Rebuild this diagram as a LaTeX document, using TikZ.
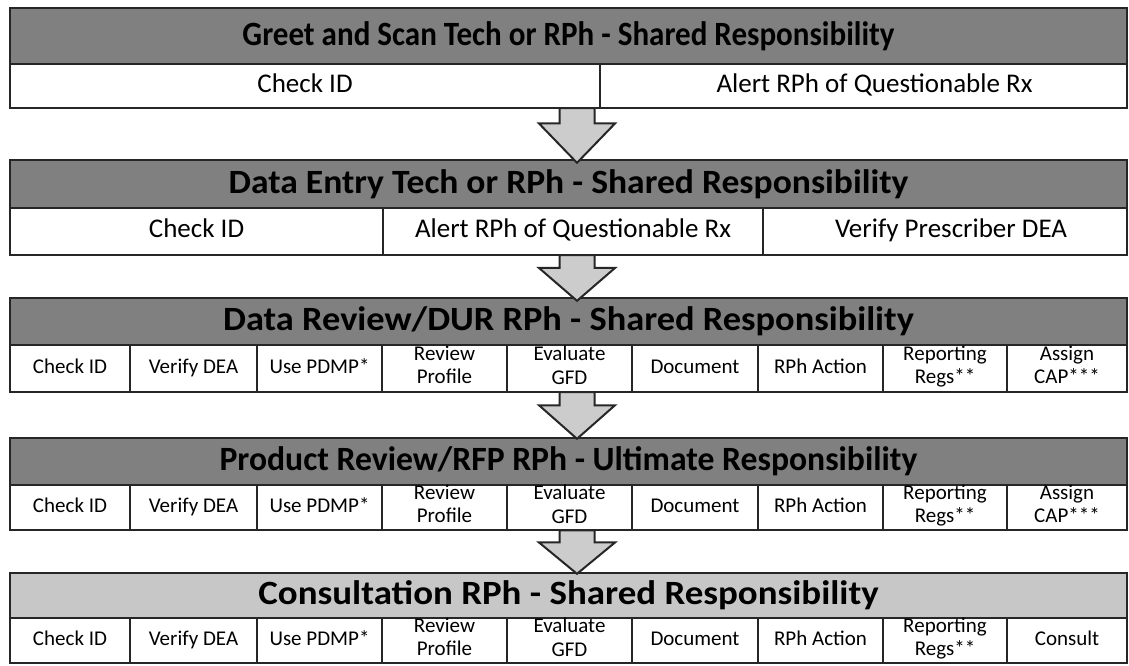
\documentclass[tikz,border=0pt]{standalone}
\usepackage{fontspec}
\setmainfont{Carlito}
\usetikzlibrary{calc}
\tikzset{
  frame/.style={draw=black!85, line width=2.4pt, inner sep=0pt},
  hdr/.style={frame, fill=black!50, font=\bfseries\fontsize{34}{36}\selectfont},
  hdrlight/.style={hdr, fill=black!22},
  bigcell/.style={frame, fill=white, font=\fontsize{27}{30}\selectfont,
    execute at begin node=\strut},
  smallcell/.style={frame, fill=white, align=center, font=\fontsize{21}{23.5}\selectfont,
    execute at begin node=\strut, execute at end node=\strut},
  barrow/.style={draw=black!85, line width=2pt, fill=black!20, line join=miter},
}
\newcommand\boxnode[7]{% style, name, x1, y1, x2, y2, text
  \pgfmathsetmacro\cx{(#3+#5)/2}\pgfmathsetmacro\cy{(#4+#6)/2}%
  \pgfmathsetmacro\cw{#5-#3}\pgfmathsetmacro\ch{#6-#4}%
  \node[#1, minimum width=\cw pt, minimum height=\ch pt] (#2) at (\cx,\cy) {#7};}
\newcommand\blockarrow[2]{%
  \draw[barrow] let \p1=(#1), \p2=(#2), \n1={0.72*(\y1-\y2)} in
    (\x1-17.5pt,\y1) -- (\x1+17.5pt,\y1) -- (\x1+17.5pt,\y2+\n1) -- (\x1+38pt,\y2+\n1)
    -- (\x2,\y2) -- (\x1-38pt,\y2+\n1) -- (\x1-17.5pt,\y2+\n1) -- cycle;}
\begin{document}
\begin{tikzpicture}[x=1pt,y=-1pt]
\useasboundingbox (0,0) rectangle (1129,665);
% ---------- row 1
\boxnode{hdr}{h1}{10}{8}{1127}{64}{\scalebox{0.913}[1]{Greet and Scan Tech or RPh - Shared Responsibility}}
\boxnode{bigcell}{s1a}{10}{64}{600}{108}{Check ID}
\boxnode{bigcell}{s1b}{600}{64}{1127}{108}{\hspace*{22pt}Alert RPh of Questionable Rx}
% ---------- row 2
\boxnode{hdr}{h2}{10}{160}{1127}{208}{\scalebox{1.046}[1]{Data Entry Tech or RPh - Shared Responsibility}}
\boxnode{bigcell}{s2a}{10}{208}{383}{255}{Check ID}
\boxnode{bigcell}{s2b}{383}{208}{763}{255}{Alert RPh of Questionable Rx}
\boxnode{bigcell}{s2c}{763}{208}{1127}{255}{\hspace*{12pt}Verify Prescriber DEA}
% ---------- row 3
\boxnode{hdr}{h3}{10}{298}{1127}{345}{\scalebox{1.07}[1]{Data Review/DUR RPh - Shared Responsibility}}
\boxnode{smallcell}{s3a}{10}{345}{130}{392}{Check ID}
\boxnode{smallcell}{s3b}{130}{345}{257}{392}{Verify DEA}
\boxnode{smallcell}{s3c}{257}{345}{382}{392}{Use PDMP*}
\boxnode{smallcell}{s3d}{382}{345}{507}{392}{Review\\Profile}
\boxnode{smallcell}{s3e}{507}{345}{632}{392}{Evaluate\\GFD}
\boxnode{smallcell}{s3f}{632}{345}{758}{392}{Document}
\boxnode{smallcell}{s3g}{758}{345}{883}{392}{RPh Action}
\boxnode{smallcell}{s3h}{883}{345}{1007}{392}{Reporting\\Regs**}
\boxnode{smallcell}{s3i}{1007}{345}{1127}{392}{Assign\\CAP***}
% ---------- row 4
\boxnode{hdr}{h4}{10}{438}{1127}{485}{\scalebox{0.99}[1]{Product Review/RFP RPh - Ultimate Responsibility}}
\boxnode{smallcell}{s4a}{10}{485}{130}{530}{Check ID}
\boxnode{smallcell}{s4b}{130}{485}{257}{530}{Verify DEA}
\boxnode{smallcell}{s4c}{257}{485}{382}{530}{Use PDMP*}
\boxnode{smallcell}{s4d}{382}{485}{507}{530}{Review\\Profile}
\boxnode{smallcell}{s4e}{507}{485}{632}{530}{Evaluate\\GFD}
\boxnode{smallcell}{s4f}{632}{485}{758}{530}{Document}
\boxnode{smallcell}{s4g}{758}{485}{883}{530}{RPh Action}
\boxnode{smallcell}{s4h}{883}{485}{1007}{530}{Reporting\\Regs**}
\boxnode{smallcell}{s4i}{1007}{485}{1127}{530}{Assign\\CAP***}
% ---------- row 5
\boxnode{hdrlight}{h5}{10}{573}{1127}{618}{\scalebox{1.086}[1]{Consultation RPh - Shared Responsibility}}
\boxnode{smallcell}{s5a}{10}{618}{130}{663}{Check ID}
\boxnode{smallcell}{s5b}{130}{618}{257}{663}{Verify DEA}
\boxnode{smallcell}{s5c}{257}{618}{382}{663}{Use PDMP*}
\boxnode{smallcell}{s5d}{382}{618}{507}{663}{Review\\Profile}
\boxnode{smallcell}{s5e}{507}{618}{632}{663}{Evaluate\\GFD}
\boxnode{smallcell}{s5f}{632}{618}{758}{663}{Document}
\boxnode{smallcell}{s5g}{758}{618}{883}{663}{RPh Action}
\boxnode{smallcell}{s5h}{883}{618}{1007}{663}{Reporting\\Regs**}
\boxnode{smallcell}{s5i}{1007}{618}{1127}{663}{Consult}
% ---------- arrows
\coordinate (a1s) at (s1a.south -| 577,0); \coordinate (a1e) at (h2.north -| 577,0);
\coordinate (a2s) at (s2b.south -| 577,0); \coordinate (a2e) at (h3.north -| 577,0);
\coordinate (a3s) at (s3e.south -| 577,0); \coordinate (a3e) at (h4.north -| 577,0);
\coordinate (a4s) at (s4e.south -| 577,0); \coordinate (a4e) at (h5.north -| 577,0);
\blockarrow{$(a1s)+(0,-1)$}{$(a1e)+(0,4)$}
\blockarrow{$(a2s)+(0,-1)$}{$(a2e)+(0,4)$}
\blockarrow{$(a3s)+(0,-1)$}{$(a3e)+(0,2)$}
\blockarrow{$(a4s)+(0,-1)$}{$(a4e)+(0,2)$}
\end{tikzpicture}
\end{document}
